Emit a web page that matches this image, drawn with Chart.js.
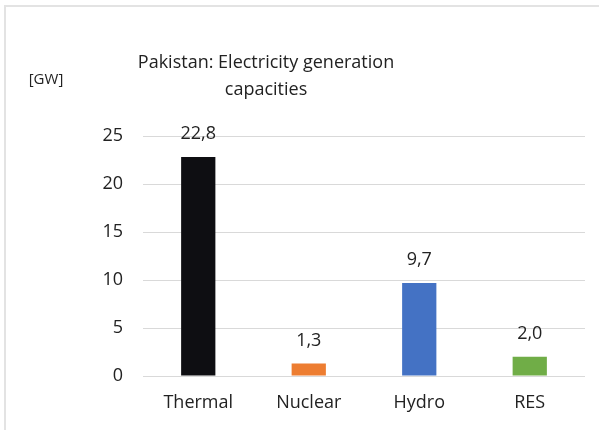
<!DOCTYPE html>
<html>
<head>
<meta charset="utf-8">
<script src="https://cdn.jsdelivr.net/npm/chart.js@4/dist/chart.umd.min.js"></script>
<style>
  html, body { margin: 0; padding: 0; background: #fff; }
  #wrap { width: 599px; height: 430px; }
</style>
</head>
<body>
<div id="wrap"><canvas id="c" width="599" height="430"></canvas></div>
<script>
const categories = ["Thermal", "Nuclear", "Hydro", "RES"];
const capacityGW = [22.8, 1.3, 9.7, 2.0];
const barColors = ["#0e0e12", "#ED7D31", "#4472C4", "#70AD47"];
const yTicks = [0, 5, 10, 15, 20, 25];
const titleLines = ["Pakistan: Electricity generation", "capacities"];
const unitLabel = "[GW]";

const FONT = "'Open Sans', 'Noto Sans', sans-serif";
const TEXT = "#222222";

const decor = {
  id: "decor",
  beforeDraw(chart) {
    const ctx = chart.ctx;
    ctx.save();
    ctx.fillStyle = "#fff";
    ctx.fillRect(0, 0, chart.width, chart.height);
    ctx.strokeStyle = "#e3e3e3";
    ctx.lineWidth = 2;
    ctx.beginPath();
    ctx.moveTo(5, 430);
    ctx.lineTo(5, 6);
    ctx.lineTo(599, 6);
    ctx.stroke();
    ctx.restore();
  },
  afterDraw(chart) {
    const ctx = chart.ctx;
    ctx.save();
    ctx.fillStyle = TEXT;
    ctx.textAlign = "center";
    ctx.textBaseline = "middle";
    ctx.font = "18px " + FONT;
    ctx.fillText(titleLines[0], 266, 63);
    ctx.fillText(titleLines[1], 266, 90);
    ctx.font = "15px " + FONT;
    ctx.fillText(unitLabel, 46, 80);
    // value labels
    ctx.font = "18px " + FONT;
    const meta = chart.getDatasetMeta(0);
    meta.data.forEach((bar, i) => {
      const v = chart.data.datasets[0].data[i];
      ctx.fillText(v.toFixed(1).replace(".", ","), bar.x, bar.y - 23);
    });
    ctx.restore();
  }
};

new Chart(document.getElementById("c"), {
  type: "bar",
  data: {
    labels: categories,
    datasets: [{
      data: capacityGW,
      backgroundColor: barColors,
      borderWidth: 0,
      barPercentage: 0.31,
      categoryPercentage: 1
    }]
  },
  options: {
    responsive: false,
    animation: false,
    devicePixelRatio: 1,
    layout: { padding: { top: 136, right: 14, left: 0, bottom: 0 } },
    plugins: { legend: { display: false }, tooltip: { enabled: false }, title: { display: false } },
    scales: {
      x: {
        grid: { display: false, drawTicks: false },
        border: { display: false },
        ticks: { color: TEXT, font: { family: FONT, size: 18 }, padding: 16 },
        afterFit(s) { s.height = 54; }
      },
      y: {
        min: 0, max: 25,
        afterBuildTicks(s) { s.ticks = yTicks.map(v => ({ value: v })); },
        grid: { color: "#d9d9d9", lineWidth: 1, drawTicks: false },
        border: { display: false },
        ticks: { color: TEXT, font: { family: FONT, size: 18 }, padding: 20 },
        afterFit(s) { s.width = 143; }
      }
    }
  },
  plugins: [decor]
});
</script>
</body>
</html>
